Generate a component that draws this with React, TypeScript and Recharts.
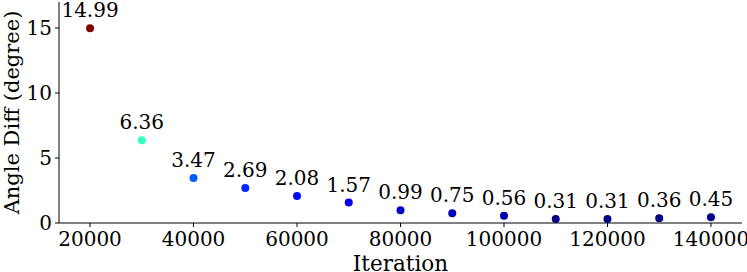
import { ScatterChart, Scatter, XAxis, YAxis, Label } from "recharts";

const iterations = [
  20000, 30000, 40000, 50000, 60000, 70000, 80000, 90000, 100000, 110000,
  120000, 130000, 140000,
];
const angleDiffs = [
  14.99, 6.36, 3.47, 2.69, 2.08, 1.57, 0.99, 0.75, 0.56, 0.31, 0.31, 0.36, 0.45,
];
// jet colormap, coloured by value
const pointColors = [
  "#7f0000", "#36ffc0", "#005cff", "#0026ff", "#0008ff", "#0000f0", "#0000c8",
  "#0000b8", "#0000a8", "#000084", "#000084", "#000088", "#000090",
];
const xTicks = [20000, 40000, 60000, 80000, 100000, 120000, 140000];
const yTicks = [0, 5, 10, 15];

const data = iterations.map((it, i) => ({
  x: it,
  y: angleDiffs[i],
  color: pointColors[i],
}));

const FONT = "DejaVu Serif";
const tickStyle = { fontFamily: FONT, fontSize: 20, fill: "#000" };

const Dot = (props: any) => {
  const { cx, cy, payload } = props;
  return (
    <g>
      <circle cx={cx} cy={cy} r={4} fill={payload.color} />
      <text
        x={cx}
        y={cy - 11}
        textAnchor="middle"
        fontFamily={FONT}
        fontSize={20}
        fill="#000"
      >
        {payload.y.toFixed(2)}
      </text>
    </g>
  );
};

const XLabel = (props: any) => {
  const { viewBox } = props;
  return (
    <text
      x={viewBox.x + viewBox.width / 2}
      y={viewBox.y + viewBox.height - 1.5}
      textAnchor="middle"
      fontFamily={FONT}
      fontSize={21.5}
      fill="#000"
    >
      Iteration
    </text>
  );
};

const YLabel = (props: any) => {
  const { viewBox } = props;
  const cx = 11.5;
  const cy = viewBox.y + viewBox.height / 2;
  return (
    <text
      x={cx}
      y={cy}
      transform={`rotate(-90 ${cx} ${cy})`}
      textAnchor="middle"
      dominantBaseline="central"
      fontFamily={FONT}
      fontSize={21}
      fill="#000"
    >
      Angle Diff (degree)
    </text>
  );
};

export default function App() {
  return (
    <div style={{ position: "absolute", left: 0, top: 0, background: "#fff" }}>
      <ScatterChart
        width={747}
        height={272}
        margin={{ top: 2, right: 5, left: 0, bottom: 0 }}
      >
        <XAxis
          type="number"
          dataKey="x"
          domain={[14000, 146000]}
          ticks={xTicks}
          allowDataOverflow
          height={49}
          tickSize={4}
          tickMargin={5}
          tick={tickStyle}
          stroke="#000"
        >
          <Label content={<XLabel />} />
        </XAxis>
        <YAxis
          type="number"
          dataKey="y"
          domain={[0, 17]}
          ticks={yTicks}
          allowDataOverflow
          width={59}
          tickSize={4}
          tickMargin={3}
          tick={tickStyle}
          stroke="#000"
        >
          <Label content={<YLabel />} />
        </YAxis>
        <Scatter data={data} shape={<Dot />} isAnimationActive={false} />
      </ScatterChart>
    </div>
  );
}
